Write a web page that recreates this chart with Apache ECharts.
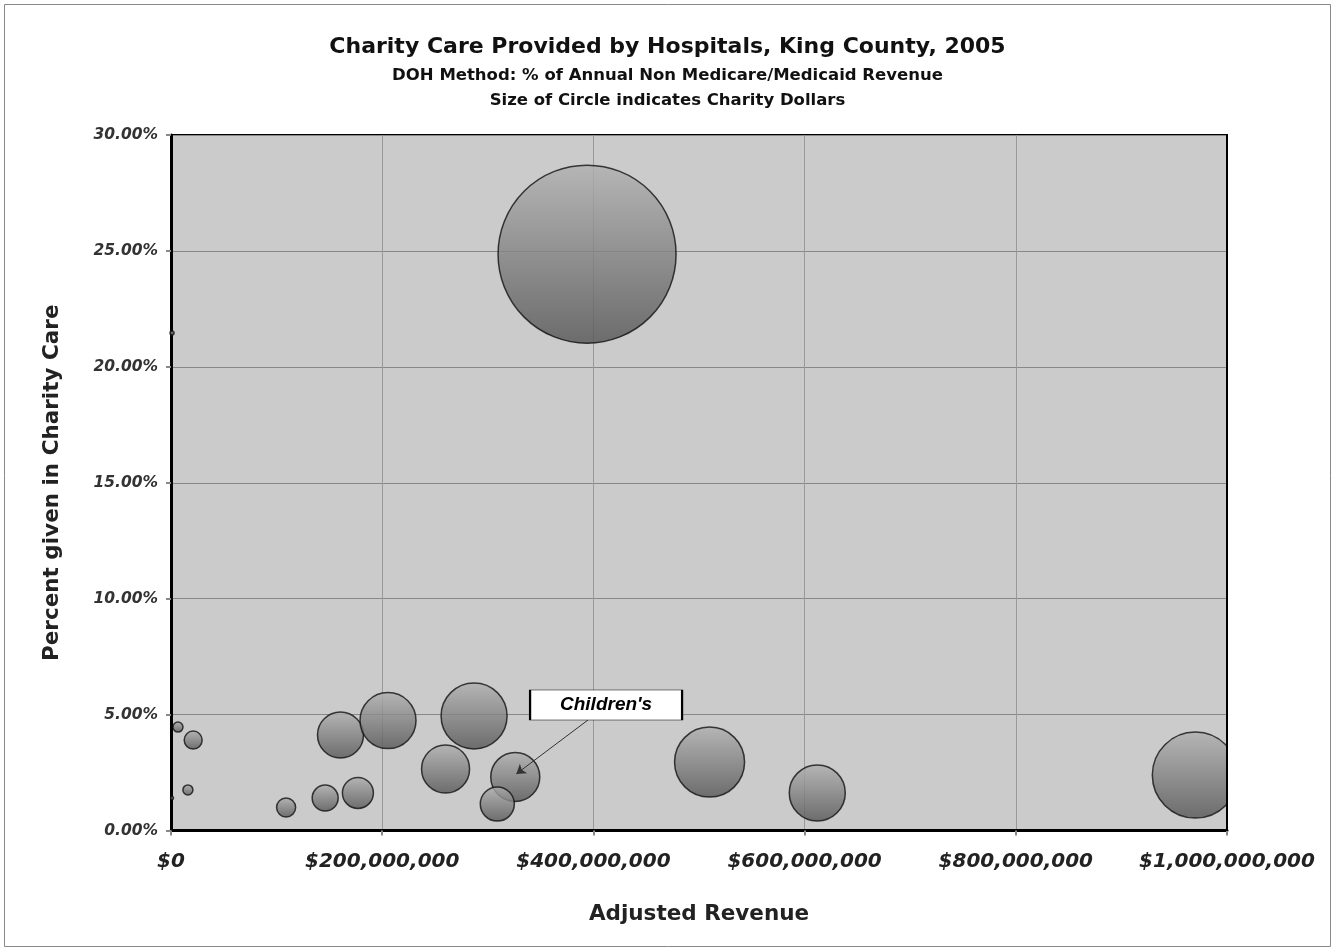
<!DOCTYPE html>
<html>
<head>
<meta charset="utf-8">
<script src="https://cdn.jsdelivr.net/npm/echarts@6/dist/echarts.min.js"></script>
<style>html,body{margin:0;padding:0;background:#fff}#c{width:1335px;height:951px}</style>
</head>
<body>
<div id="c"></div>
<script>
// Adjusted revenue ($ millions)
const revenueM = [394, 1, 6.6, 21, 16, 1, 109, 146, 177, 160.5, 205.5, 287, 260, 326, 309, 510, 612, 970];
// Percent given in charity care (%)
const charityPct = [24.86, 21.46, 4.46, 3.90, 1.75, 1.40, 0.99, 1.40, 1.62, 4.12, 4.74, 4.94, 2.65, 2.31, 1.14, 2.95, 1.62, 2.39];
// Charity dollars ($ millions) -> bubble size
const charityM = [98.0, 0.05, 0.31, 1.0, 0.31, 0.028, 1.12, 2.09, 2.97, 6.54, 9.70, 13.47, 7.13, 7.43, 3.58, 15.16, 9.70, 22.88];
const names = ['', '', '', '', '', '', '', '', '', '', '', '', '', "Children's", '', '', '', ''];
const xTicks = [0, 200000000, 400000000, 600000000, 800000000, 1000000000];
const yTicks = [0, 5, 10, 15, 20, 25, 30];

const maxC = Math.max(...charityM);
const data = revenueM.map((r, i) => ({ name: names[i], value: [r * 1e6, charityPct[i], charityM[i]] }));

const fmtMoney = v => '$' + Math.round(v).toString().replace(/\B(?=(\d{3})+(?!\d))/g, ',');

const chart = echarts.init(document.getElementById('c'));
chart.setOption({
  backgroundColor: '#fff',
  animation: false,
  graphic: [
    { type: 'rect', shape: { x: 4.5, y: 4.5, width: 1326, height: 942 }, style: { fill: 'none', stroke: '#888', lineWidth: 1 }, z: -1 },
    // white mask so bubbles are cut at the plot's right edge, as in the original
    { type: 'rect', shape: { x: 1228, y: 130, width: 60, height: 698 }, style: { fill: '#fff' }, z: 100 },
    { type: 'line', shape: { x1: 1227, y1: 134, x2: 1227, y2: 831 }, style: { stroke: '#000', lineWidth: 2 }, z: 101 }
  ],
  title: [
    { text: 'Charity Care Provided by Hospitals, King County, 2005', left: 'center', top: 31,
      textStyle: { fontFamily: 'DejaVu Sans', fontSize: 22, fontWeight: 'bold', color: '#111' } },
    { text: 'DOH Method: % of Annual Non Medicare/Medicaid Revenue', left: 'center', top: 62,
      textStyle: { fontFamily: 'DejaVu Sans', fontSize: 16.5, fontWeight: 'bold', color: '#111' } },
    { text: 'Size of Circle indicates Charity Dollars', left: 'center', top: 87,
      textStyle: { fontFamily: 'DejaVu Sans', fontSize: 16.5, fontWeight: 'bold', color: '#111' } }
  ],
  grid: { left: 171, right: 108, top: 135, bottom: 120.5, show: true, backgroundColor: '#cbcbcb', borderColor: '#000', borderWidth: 2 },
  xAxis: {
    type: 'value', min: xTicks[0], max: xTicks[xTicks.length - 1], interval: xTicks[1] - xTicks[0],
    name: 'Adjusted Revenue', nameLocation: 'middle', nameGap: 73,
    nameTextStyle: { fontFamily: 'DejaVu Sans', fontSize: 21.5, fontWeight: 'bold', color: '#222' },
    axisLine: { show: true, lineStyle: { color: '#000', width: 3 } },
    axisTick: { show: true, length: 5, lineStyle: { color: '#888', width: 2 } },
    axisLabel: { margin: 21, formatter: fmtMoney, fontFamily: 'DejaVu Sans', fontSize: 20, fontWeight: 'bold', fontStyle: 'italic', color: '#222' },
    splitLine: { show: true, lineStyle: { color: '#999', width: 1 } }
  },
  yAxis: {
    type: 'value', min: yTicks[0], max: yTicks[yTicks.length - 1], interval: yTicks[1] - yTicks[0],
    name: 'Percent given in Charity Care', nameLocation: 'middle', nameGap: 108, nameRotate: 90,
    nameTextStyle: { fontFamily: 'DejaVu Sans', fontSize: 21.5, fontWeight: 'bold', color: '#222' },
    axisLine: { show: true, lineStyle: { color: '#000', width: 3 } },
    axisTick: { show: true, length: 5, lineStyle: { color: '#888', width: 2 } },
    axisLabel: { margin: 13, formatter: v => v.toFixed(2) + '%', fontFamily: 'DejaVu Sans', fontSize: 15.5, fontWeight: 'bold', fontStyle: 'italic', color: '#333' },
    splitLine: { show: true, lineStyle: { color: '#888', width: 1 } }
  },
  series: [{
    type: 'scatter',
    clip: true,
    data: data,
    symbolSize: v => 178 * Math.sqrt(v[2] / maxC),
    itemStyle: {
      color: new echarts.graphic.LinearGradient(0, 0, 0, 1, [
        { offset: 0, color: '#b0b0b0' },
        { offset: 1, color: '#545454' }
      ]),
      borderColor: '#111',
      borderWidth: 1.5
    },
    markLine: {
      silent: true,
      symbol: ['none', 'arrow'],
      symbolSize: 9,
      label: { show: false },
      lineStyle: { color: '#333', width: 1, type: 'solid' },
      data: [[{ coord: [395e6, 4.77] }, { coord: [327e6, 2.44] }]]
    },
    markPoint: {
      silent: true,
      symbol: 'rect',
      symbolSize: [152, 30],
      itemStyle: { color: '#fff', borderColor: '#000', borderWidth: 1 },
      label: { show: true, position: 'inside', formatter: "Children's", fontFamily: 'Liberation Sans', fontSize: 19, fontWeight: 'bold', fontStyle: 'italic', color: '#000' },
      data: [{ coord: [412e6, 5.41] }]
    }
  }]
});
</script>
</body>
</html>
